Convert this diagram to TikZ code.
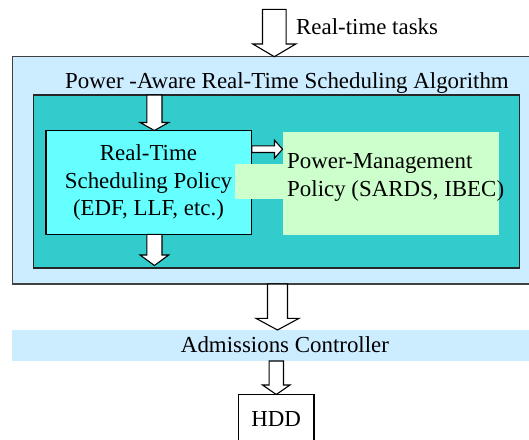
\documentclass[tikz,border=0pt]{standalone}
\usepackage{fontspec}
\setmainfont{Liberation Serif}
\newfontfamily\tnrfont{Liberation Serif}
\usetikzlibrary{calc}
\definecolor{outerblue}{HTML}{CCECFF}
\definecolor{tealbox}{HTML}{33CCCC}
\definecolor{cyanbox}{HTML}{66FFFF}
\definecolor{greenbox}{HTML}{CCFFCC}
\tikzset{
  box/.style={inner sep=0pt, outer sep=0pt, anchor=north west},
  txt/.style={inner sep=0pt, font=\tnrfont\fontsize{22.9}{27.5}\selectfont},
  blockarrow/.style={draw=black, fill=white, line width=1.1pt, line join=miter},
}
\newcommand\vblockarrow[5]{%
  \draw[blockarrow] let \p1=(#1), \p2=(#2) in
    (\x2-#3,\y1) -- (\x2-#3,\y2+#5) -- (\x2-#4,\y2+#5) -- (\x2,\y2)
    -- (\x2+#4,\y2+#5) -- (\x2+#3,\y2+#5) -- (\x2+#3,\y1) -- cycle;}
\newcommand\hblockarrow[5]{%
  \draw[blockarrow] let \p1=(#1), \p2=(#2) in
    (\x1,\y1+#3) -- (\x2-#5,\y1+#3) -- (\x2-#5,\y1+#4) -- (\x2,\y1)
    -- (\x2-#5,\y1-#4) -- (\x2-#5,\y1-#3) -- (\x1,\y1-#3) -- cycle;}
\begin{document}
\begin{tikzpicture}[x=1pt,y=1pt]
\useasboundingbox (0,0) rectangle (529,-439);
% outer box
\node[box, draw=black!75, line width=1.4pt, fill=outerblue, minimum width=523pt, minimum height=227.3pt] (outer) at (12.5,-56.7) {};
\node[txt, anchor=base] (title) at (287,-88.4) {Power -Aware Real-Time Scheduling Algorithm};
% teal box
\node[box, draw=black!85, line width=1.2pt, fill=tealbox, minimum width=485.9pt, minimum height=173pt] (teal) at (33.7,-95) {};
% cyan box
\node[box, draw=black, line width=1.2pt, fill=cyanbox, minimum width=205.7pt, minimum height=103.9pt] (cyan) at (46,-130.5) {};
\node[txt, align=center] (cyantext) at (148.5,-182.5) {Real-Time\\Scheduling Policy\\(EDF, LLF, etc.)};
% green box
\node[box, fill=greenbox, minimum width=216.2pt, minimum height=103.5pt] (green) at (282.5,-131.5) {};
\node[box, fill=greenbox, minimum width=48.5pt, minimum height=35pt] (patch) at (234.5,-163.5) {};
\node[txt, align=left, anchor=west] (pmtext) at (287,-177.5) {Power-Management\\Policy (SARDS, IBEC)};
% top input
\coordinate (intop) at (274.3,-9.4);
\node[txt, anchor=base west] (rtlabel) at (296,-34.4) {Real-time tasks};
% admissions band
\node[box, fill=outerblue, minimum width=530pt, minimum height=31pt] (band) at (12,-330) {};
\node[txt, anchor=base] (admtext) at (285,-352.7) {Admissions Controller};
% HDD
\node[box, draw=black, line width=1.2pt, fill=white, minimum width=75.5pt, minimum height=60pt] (hdd) at (238.5,-394.5) {};
\node[txt, anchor=base] (hddtext) at (276.2,-426.7) {HDD};
% arrows
\vblockarrow{intop}{intop |- outer.north}{11.8pt}{21.5pt}{12.7pt}
\coordinate (sa) at (154.4,0);
\vblockarrow{sa |- teal.north}{sa |- cyan.north}{7.6pt}{14.3pt}{8pt}
\vblockarrow{sa |- cyan.south}{$(sa |- teal.south)+(0,2.5)$}{7.6pt}{14.3pt}{10.5pt}
\coordinate (ha) at (0,-149.2);
\hblockarrow{ha -| cyan.east}{ha -| green.west}{3.3pt}{9pt}{8pt}
\coordinate (oa) at (277.5,0);
\vblockarrow{oa |- outer.south}{oa |- band.north}{10pt}{21.6pt}{11.7pt}
\vblockarrow{band.south -| hdd.north}{hdd.north}{7.2pt}{13.7pt}{9.5pt}
\end{tikzpicture}
\end{document}
